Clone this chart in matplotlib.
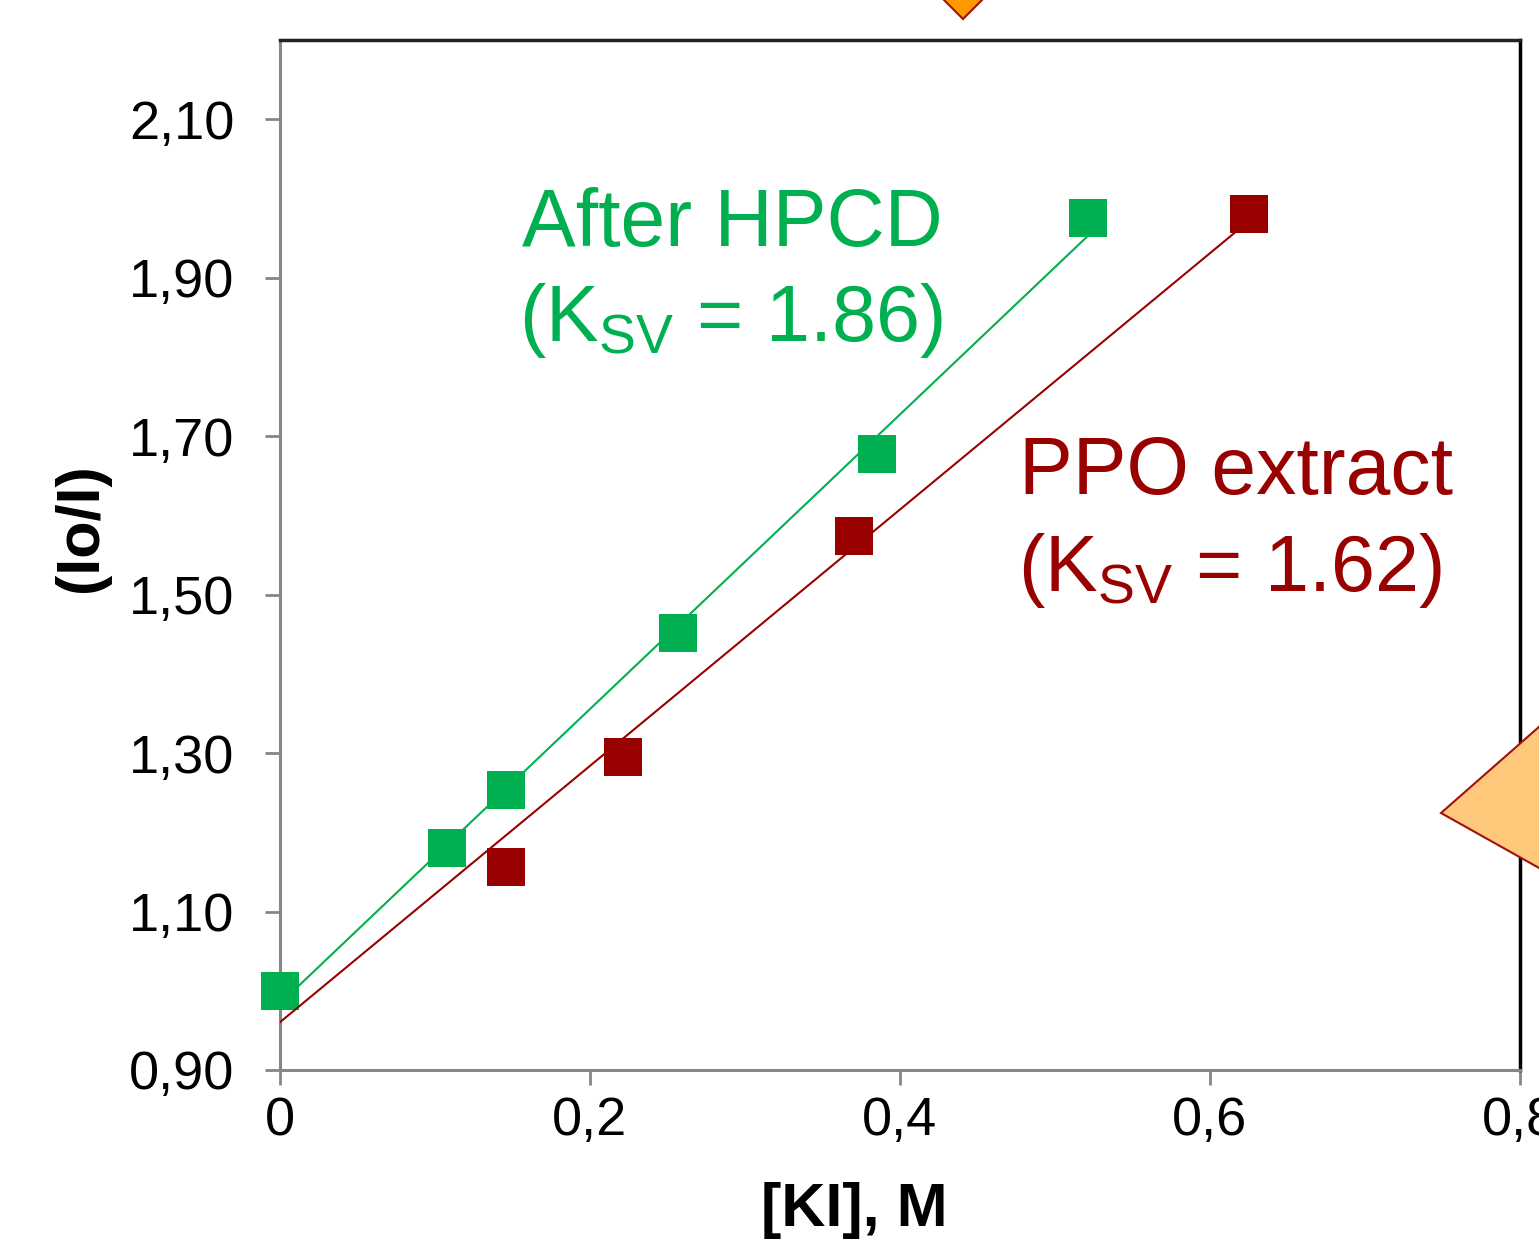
import numpy as np
import matplotlib
matplotlib.use("Agg")
import matplotlib.pyplot as plt
from matplotlib.patches import Polygon
from matplotlib.ticker import FixedLocator, FixedFormatter

plt.rcParams['font.family'] = ['Liberation Sans', 'DejaVu Sans']
plt.rcParams['mathtext.fontset'] = 'custom'
plt.rcParams['mathtext.rm'] = 'Liberation Sans'
plt.rcParams['mathtext.it'] = 'Liberation Sans'

# Data
hpcd_x = [0.0, 0.108, 0.146, 0.257, 0.385, 0.521]
hpcd_y = [1.00, 1.180, 1.253, 1.451, 1.678, 1.975]
ppo_x = [0.0, 0.146, 0.221, 0.370, 0.625]
ppo_y = [1.00, 1.156, 1.295, 1.574, 1.980]

x_ticks = [0.0, 0.2, 0.4, 0.6, 0.8]
x_tick_labels = ["0", "0,2", "0,4", "0,6", "0,8"]
y_ticks = [0.90, 1.10, 1.30, 1.50, 1.70, 1.90, 2.10]
y_tick_labels = ["0,90", "1,10", "1,30", "1,50", "1,70", "1,90", "2,10"]

green = "#00B050"
red = "#990000"

W, H = 1539, 1244
fig = plt.figure(figsize=(W / 100, H / 100), dpi=100)
ax = fig.add_axes([280 / W, 1 - 1070 / H, 1240 / W, 1030 / H])

# fits (trendlines)
gk, gb = np.polyfit(hpcd_x, hpcd_y, 1)
rk, rb = np.polyfit(ppo_x, ppo_y, 1)
gx = np.array([0.0, max(hpcd_x)])
rx = np.array([0.0, max(ppo_x)])

ax.plot(ppo_x, ppo_y, linestyle='none', marker='s', markersize=28,
        color=red, markeredgewidth=0, zorder=2, clip_on=False)
ax.plot(gx, gk * gx + gb, color=green, lw=1.5, zorder=3)
ax.plot(hpcd_x, hpcd_y, linestyle='none', marker='s', markersize=28,
        color=green, markeredgewidth=0, zorder=4, clip_on=False)
ax.plot(rx, rk * rx + rb, color=red, lw=1.5, zorder=5)

ax.set_xlim(0, 0.8)
ax.set_ylim(0.9, 2.2)
ax.xaxis.set_major_locator(FixedLocator(x_ticks))
ax.xaxis.set_major_formatter(FixedFormatter(x_tick_labels))
ax.yaxis.set_major_locator(FixedLocator(y_ticks))
ax.yaxis.set_major_formatter(FixedFormatter(y_tick_labels))
ax.tick_params(axis='both', direction='out', length=11, width=2, color='#868686',
               labelsize=39, labelcolor='black')
ax.tick_params(axis='x', pad=8)
ax.tick_params(axis='y', pad=22)

for s in ['left', 'bottom']:
    ax.spines[s].set_color('#868686')
    ax.spines[s].set_linewidth(2.2)
ax.spines['top'].set_color('#222222')
ax.spines['top'].set_linewidth(2.5)
ax.spines['right'].set_color('black')
ax.spines['right'].set_linewidth(2.5)

ax.set_xlabel("[KI], M", fontsize=44, fontweight='bold')
ax.set_ylabel("(Io/I)", fontsize=44, fontweight='bold')
ax.xaxis.set_label_coords(0.463, -0.109)
ax.yaxis.set_label_coords(-0.137, 0.527)

ax.text(0.156, 1.94, "After HPCD", color=green, fontsize=58, va='baseline', ha='left')
ax.text(0.154, 1.82, r"(K$_{\mathrm{SV}}$ = 1.86)", color=green, fontsize=57,
        va='baseline', ha='left')
ax.text(0.477, 1.627, "PPO extract", color=red, fontsize=58, va='baseline', ha='left')
ax.text(0.476, 1.505, r"(K$_{\mathrm{SV}}$ = 1.62)", color=red, fontsize=57,
        va='baseline', ha='left')

# decorative slide shapes (pixel coordinates, y from top)
def px(pts):
    return [(x / W, 1 - y / H) for x, y in pts]

diamond = Polygon(px([(963, 19), (1022, -40), (963, -99), (904, -40)]),
                  closed=True, transform=fig.transFigure, facecolor='#FF9900',
                  edgecolor='#A01010', lw=1.5, zorder=10)
fig.patches.append(diamond)
tri = Polygon(px([(1441, 813), (1639, 639), (1639, 924)]), closed=True,
              transform=fig.transFigure, facecolor='#FFC87A',
              edgecolor='#A01010', lw=1.5, zorder=10)
fig.patches.append(tri)

fig.savefig("out.png", dpi=100)
